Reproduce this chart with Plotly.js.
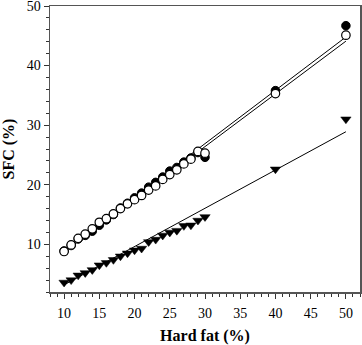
<!DOCTYPE html>
<html>
<head>
<meta charset="utf-8">
<script src="https://cdn.plot.ly/plotly-3.0.1.min.js"></script>
<style>
  body { margin: 0; background: #fff; }
  #chart { width: 362px; height: 345px; }
</style>
</head>
<body>
<div id="chart"></div>
<script>
// hard fat (%) levels
let hardFat = [10, 11, 12, 13, 14, 15, 16, 17, 18, 19, 20, 21, 22, 23, 24, 25, 26, 27, 28, 29, 30, 40, 50];

// SFC (%) per series
let sfcOpen = [8.8, 9.9, 11.0, 11.7, 12.6, 13.7, 14.3, 15.1, 16.0, 16.8, 17.5, 18.2, 19.1, 19.8, 20.9, 21.7, 22.5, 23.5, 24.3, 25.6, 25.3, 35.3, 45.1];
let sfcFilled = [8.9, 9.8, 10.9, 11.5, 12.2, 13.2, 14.1, 15.0, 16.1, 16.9, 17.8, 18.6, 19.6, 20.4, 21.3, 22.3, 22.9, 23.8, 24.5, 25.4, 24.6, 35.8, 46.7];
let sfcTri = [3.6, 4.0, 4.8, 5.2, 5.7, 6.5, 6.9, 7.4, 8.0, 8.5, 9.0, 9.3, 10.4, 10.8, 11.5, 12.0, 12.3, 13.1, 13.2, 14.0, 14.6, 22.6, 31.0];

// fitted lines (end points)
let fitX = [10, 50];
let fitFilled = [9.0, 44.8];
let fitOpen = [8.7, 44.1];
let fitTri = [3.2, 28.9];

let lineStyle = {color: '#000', width: 1};

let data = [
  {x: fitX, y: fitFilled, mode: 'lines', line: lineStyle, hoverinfo: 'none'},
  {x: fitX, y: fitOpen, mode: 'lines', line: lineStyle, hoverinfo: 'none'},
  {x: fitX, y: fitTri, mode: 'lines', line: lineStyle, hoverinfo: 'none'},
  {x: hardFat, y: sfcFilled, mode: 'markers',
   marker: {symbol: 'circle', size: 8.5, color: '#000', line: {color: '#000', width: 1}}},
  {x: hardFat, y: sfcOpen, mode: 'markers',
   marker: {symbol: 'circle', size: 8.5, color: '#fff', line: {color: '#000', width: 1.2}}},
  {x: hardFat, y: sfcTri, mode: 'markers',
   marker: {symbol: 'triangle-down', size: 9, color: '#000', line: {color: '#000', width: 0.5}}}
];

let serif = '"Liberation Serif", "Times New Roman", serif';
let tickFont = {family: serif, size: 14, color: '#000'};
let titleFont = {family: serif, size: 16, color: '#000'};

let layout = {
  width: 362,
  height: 345,
  margin: {l: 50, r: 2, t: 6, b: 53},
  showlegend: false,
  paper_bgcolor: '#fff',
  plot_bgcolor: '#fff',
  font: tickFont,
  xaxis: {
    range: [8, 52],
    tickvals: [10, 15, 20, 25, 30, 35, 40, 45, 50],
    tickfont: tickFont,
    ticks: 'outside',
    ticklen: 5,
    tickcolor: '#333',
    showgrid: false,
    zeroline: false,
    showline: true,
    linecolor: '#555',
    linewidth: 1.5,
    mirror: true,
    ticklabelstandoff: 3,
    ticklabeloverflow: 'allow',
    minor: {dtick: 1, tick0: 0, ticks: 'outside', ticklen: 3, tickcolor: '#333', showgrid: false},
    title: {text: '<b>Hard fat (%)</b>', font: titleFont, standoff: 14}
  },
  yaxis: {
    range: [2, 50],
    tickvals: [10, 20, 30, 40, 50],
    tickfont: tickFont,
    ticks: 'outside',
    ticklen: 5,
    tickcolor: '#333',
    showgrid: false,
    zeroline: false,
    showline: true,
    linecolor: '#555',
    linewidth: 1.5,
    mirror: true,
    ticklabeloverflow: 'allow',
    minor: {dtick: 2, tick0: 0, ticks: 'outside', ticklen: 3, tickcolor: '#333', showgrid: false},
    title: {text: '<b>SFC (%)</b>', font: titleFont, standoff: 8}
  }
};

Plotly.newPlot('chart', data, layout, {displayModeBar: false, staticPlot: true});
</script>
</body>
</html>
